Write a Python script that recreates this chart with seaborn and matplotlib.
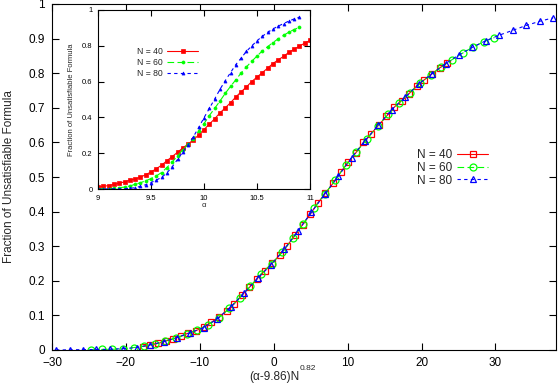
import numpy as np
import matplotlib
matplotlib.use("Agg")
import matplotlib.pyplot as plt
import seaborn as sns

# ── Data ──────────────────────────────────────────────────────────────────
ALPHA_40 = [9.00, 9.05, 9.10, 9.15, 9.20, 9.25, 9.30, 9.35, 9.40, 9.45,
            9.50, 9.55, 9.60, 9.65, 9.70, 9.75, 9.80, 9.85, 9.90, 9.95,
            10.00, 10.05, 10.10, 10.15, 10.20, 10.25, 10.30, 10.35, 10.40, 10.45,
            10.50, 10.55, 10.60, 10.65, 10.70, 10.75, 10.80, 10.85, 10.90, 10.95,
            11.00]
ALPHA_60 = ALPHA_40[:-2]
ALPHA_80 = ALPHA_40[:-2]

FRAC_40 = [0.010, 0.015, 0.019, 0.026, 0.032, 0.040, 0.049, 0.056, 0.066, 0.080,
           0.095, 0.113, 0.133, 0.158, 0.181, 0.205, 0.229, 0.251, 0.275, 0.302,
           0.332, 0.362, 0.392, 0.425, 0.453, 0.482, 0.514, 0.543, 0.570, 0.600,
           0.625, 0.650, 0.675, 0.701, 0.721, 0.741, 0.763, 0.781, 0.798, 0.815,
           0.830]
FRAC_60 = [0.001, 0.0015, 0.002, 0.004, 0.007, 0.011, 0.017, 0.026, 0.035, 0.046,
           0.058, 0.073, 0.092, 0.120, 0.151, 0.184, 0.220, 0.249, 0.282, 0.323,
           0.365, 0.410, 0.450, 0.491, 0.534, 0.573, 0.610, 0.648, 0.682, 0.713,
           0.743, 0.771, 0.795, 0.818, 0.839, 0.858, 0.876, 0.891, 0.903]
FRAC_80 = [0.000, 0.000, 0.0005, 0.001, 0.0015, 0.002, 0.004, 0.007, 0.015, 0.024,
           0.036, 0.050, 0.065, 0.090, 0.124, 0.165, 0.207, 0.246, 0.292, 0.344,
           0.398, 0.450, 0.502, 0.556, 0.605, 0.650, 0.695, 0.731, 0.769, 0.799,
           0.828, 0.853, 0.875, 0.894, 0.910, 0.924, 0.938, 0.950, 0.960]

ALPHA_C = 9.86
NU_EXP = 0.82

SERIES = [
    # N, alpha, frac, colour, marker, main size, linestyle
    (40, ALPHA_40, FRAC_40, "#ff0000", "s", 5.0, "-"),
    (60, ALPHA_60, FRAC_60, "#00ff00", "o", 5.0, (0, (6, 3))),
    (80, ALPHA_80, FRAC_80, "#0000ff", "^", 4.3, (0, (3, 3))),
]

MAIN_XTICKS = [-30, -20, -10, 0, 10, 20, 30]
MAIN_YTICKS = [0, 0.1, 0.2, 0.3, 0.4, 0.5, 0.6, 0.7, 0.8, 0.9, 1]
MAIN_YLABELS = ["0", "0.1", "0.2", "0.3", "0.4", "0.5", "0.6", "0.7", "0.8", "0.9", "1"]
INSET_XTICKS = [9, 9.5, 10, 10.5, 11]
INSET_XLABELS = ["9", "9.5", "10", "10.5", "11"]
INSET_YTICKS = [0, 0.2, 0.4, 0.6, 0.8, 1]
INSET_YLABELS = ["0", "0.2", "0.4", "0.6", "0.8", "1"]

# ── Style ─────────────────────────────────────────────────────────────────
sns.set_style("ticks")
plt.rcParams["font.family"] = ["Liberation Sans", "DejaVu Sans"]

fig = plt.figure(figsize=(5.58, 3.86), dpi=100)
ax = fig.add_axes([52 / 558, 36 / 386, 504 / 558, 346 / 386])

# ── Main (scaled) plot ────────────────────────────────────────────────────
for n, alpha, frac, col, mk, ms, ls in SERIES:
    x = (np.array(alpha) - ALPHA_C) * n ** NU_EXP
    sns.lineplot(x=x, y=frac, ax=ax, color=col, marker=mk, markersize=ms,
                 markerfacecolor="none", markeredgecolor=col, markeredgewidth=0.9,
                 linestyle=ls, linewidth=0.8, label=f"N = {n}", sort=False)

ax.set_xlim(-30, 38.2)
ax.set_ylim(0, 1)
ax.set_xticks(MAIN_XTICKS)
ax.set_yticks(MAIN_YTICKS)
ax.set_yticklabels(MAIN_YLABELS)
ax.tick_params(direction="in", length=5, width=0.8, top=True, right=True,
               labelsize=8.5, pad=5, colors="black")
for sp in ax.spines.values():
    sp.set_visible(True)
    sp.set_linewidth(0.8)
    sp.set_color("black")
ax.set_ylabel("Fraction of Unsatisfiable Formula", fontsize=8.5, labelpad=10)

# x label with a superscript exponent drawn as plain text
fig.text(0.536, 0.0155, "(α-9.86)N", fontsize=8.5, ha="right", va="baseline")
fig.text(0.537, 0.041, "0.82", fontsize=6, ha="left", va="baseline")

ax.legend(loc="center right", bbox_to_anchor=(0.866, 0.526), frameon=False,
          markerfirst=False, fontsize=8.5, handlelength=2.7, handletextpad=0.4,
          labelspacing=0.05, borderpad=0, borderaxespad=0)

# ── Inset (raw alpha) ─────────────────────────────────────────────────────
ax_in = fig.add_axes([98 / 558, (386 - 189) / 386, 212 / 558, 179 / 386])
ax_in.set_facecolor("white")
for n, alpha, frac, col, mk, ms, ls in SERIES:
    sns.lineplot(x=alpha, y=frac, ax=ax_in, color=col, marker=mk, markersize=2.2,
                 markerfacecolor=col, markeredgecolor=col, markeredgewidth=0.5,
                 linestyle=ls, linewidth=0.8, label=f"N = {n}", sort=False)

ax_in.set_xlim(9, 11)
ax_in.set_ylim(0, 1)
ax_in.set_xticks(INSET_XTICKS)
ax_in.set_xticklabels(INSET_XLABELS)
ax_in.set_yticks(INSET_YTICKS)
ax_in.set_yticklabels(INSET_YLABELS)
ax_in.tick_params(direction="in", length=4, width=0.8, top=True, right=True,
                  labelsize=5.5, pad=4, colors="black")
for sp in ax_in.spines.values():
    sp.set_visible(True)
    sp.set_linewidth(0.8)
    sp.set_color("black")
ax_in.set_xlabel("α", fontsize=5.5, labelpad=0)
ax_in.set_ylabel("Fraction of Unsatisfiable Formula", fontsize=5.5, labelpad=5)

ax_in.legend(loc="center right", bbox_to_anchor=(0.472, 0.708), frameon=False,
             markerfirst=False, fontsize=6.2, handlelength=3.6, handletextpad=0.5,
             labelspacing=0.25, borderpad=0, borderaxespad=0)

fig.savefig("out.png", dpi=100)
